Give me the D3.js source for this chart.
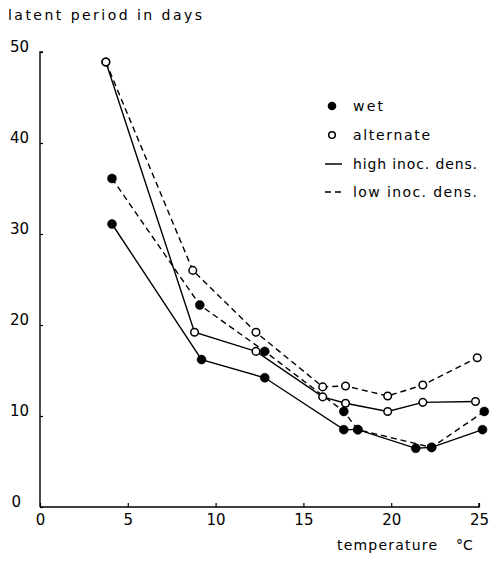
<!DOCTYPE html>
<html>
<head>
<meta charset="utf-8">
<script src="https://cdn.jsdelivr.net/npm/d3@7"></script>
<style>
  html, body { margin: 0; padding: 0; background: #fff; }
  svg { display: block; }
  text { font-family: "DejaVu Sans", sans-serif; fill: #000; }
</style>
</head>
<body>
<svg id="chart" width="491" height="568"></svg>
<script>
// ---- data ----
const xTicks = [0, 5, 10, 15, 20, 25];
const yTicks = [0, 10, 20, 30, 40, 50];

const tempWetHigh = [4.1, 9.2, 12.8, 17.3, 18.1, 21.4, 22.3, 25.2];
const daysWetHigh = [31.1, 16.2, 14.2, 8.5, 8.5, 6.45, 6.55, 8.5];

const tempWetLow = [4.1, 9.1, 12.8, 17.3, 18.1, 22.3, 25.3];
const daysWetLow = [36.1, 22.2, 17.1, 10.5, 8.5, 6.55, 10.5];

const tempAltHigh = [3.75, 8.8, 12.3, 16.1, 17.4, 19.8, 21.8, 24.8];
const daysAltHigh = [48.9, 19.2, 17.1, 12.1, 11.4, 10.5, 11.5, 11.6];

const tempAltLow = [3.75, 8.7, 12.3, 16.1, 17.4, 19.8, 21.8, 24.9];
const daysAltLow = [48.9, 26.0, 19.2, 13.2, 13.3, 12.2, 13.4, 16.4];

const legendLabels = ["wet", "alternate", "high inoc. dens.", "low inoc. dens."];

// ---- drawing ----
const svg = d3.select("#chart");
const x = d3.scaleLinear().domain([0, 25]).range([40, 479]);
const y = d3.scaleLinear().domain([0, 50]).range([507, 52]);

// axes
const xAxis = d3.axisBottom(x).tickValues(xTicks).tickSize(-4).tickPadding(10).tickFormat(d3.format("d"));
const yAxis = d3.axisLeft(y).tickValues(yTicks).tickSize(-3).tickPadding(10).tickFormat(d3.format("d"));

const gx = svg.append("g").attr("transform", `translate(0,${y(0)})`).call(xAxis);
const gy = svg.append("g").attr("transform", `translate(${x(0)},0)`).call(yAxis);
[gx, gy].forEach(g => {
  g.select(".domain").attr("stroke", "#000").attr("stroke-width", 1.4);
  g.selectAll(".tick line").attr("stroke", "#000").attr("stroke-width", 1.2);
  g.selectAll(".tick text").attr("font-size", 15).attr("font-family", "DejaVu Sans, sans-serif").attr("fill", "#000");
});
gx.select(".domain").attr("d", `M${x(0)},0H${x(25)}V-4`);
gy.select(".domain").attr("d", `M0,${y(0)}V${y(50)}H3`);
gx.selectAll(".tick text").attr("dy", "0.5em");
gy.selectAll(".tick text").attr("dy", "-0.05em").attr("x", -11);
gy.selectAll(".tick").filter(d => d === 0).select("text").attr("x", -19);

// titles
svg.append("text").attr("x", 8).attr("y", 20).attr("font-size", 14)
  .attr("textLength", 194).attr("lengthAdjust", "spacing")
  .text("latent period in days");
svg.append("text").attr("x", 337).attr("y", 550).attr("font-size", 14)
  .attr("textLength", 100).attr("lengthAdjust", "spacing")
  .text("temperature");
svg.append("text").attr("x", 456).attr("y", 550).attr("font-size", 14)
  .text("°C");

// series
const series = [
  { t: tempAltLow, d: daysAltLow, filled: false, dashed: true },
  { t: tempAltHigh, d: daysAltHigh, filled: false, dashed: false },
  { t: tempWetLow, d: daysWetLow, filled: true, dashed: true },
  { t: tempWetHigh, d: daysWetHigh, filled: true, dashed: false }
];

const line = d3.line().x(p => x(p[0])).y(p => y(p[1]));
series.forEach(s => {
  const pts = s.t.map((v, i) => [v, s.d[i]]);
  svg.append("path").datum(pts).attr("d", line)
    .attr("fill", "none").attr("stroke", "#000").attr("stroke-width", 1.4)
    .attr("stroke-dasharray", s.dashed ? "6,4" : null);
});
series.forEach(s => {
  const pts = s.t.map((v, i) => [v, s.d[i]]);
  svg.append("g").selectAll("circle").data(pts).join("circle")
    .attr("cx", p => x(p[0])).attr("cy", p => y(p[1]))
    .attr("r", s.filled ? 4.5 : 3.8)
    .attr("fill", s.filled ? "#000" : "#fff")
    .attr("stroke", "#000").attr("stroke-width", s.filled ? 0.5 : 1.5);
});

// legend
const legY = [106, 135, 164, 192];
const lg = svg.append("g");
lg.append("circle").attr("cx", 332).attr("cy", legY[0]).attr("r", 4.3).attr("fill", "#000");
lg.append("circle").attr("cx", 332).attr("cy", legY[1]).attr("r", 3.3).attr("fill", "#fff").attr("stroke", "#000").attr("stroke-width", 1.5);
lg.append("line").attr("x1", 325).attr("x2", 342).attr("y1", legY[2]).attr("y2", legY[2]).attr("stroke", "#000").attr("stroke-width", 1.5);
lg.append("line").attr("x1", 325).attr("x2", 343).attr("y1", legY[3]).attr("y2", legY[3]).attr("stroke", "#000").attr("stroke-width", 1.5).attr("stroke-dasharray", "6,4");
const legW = [30, 77, 124, 124];
legendLabels.forEach((t, i) => {
  lg.append("text").attr("x", 353).attr("y", legY[i] + 5).attr("font-size", 14)
    .attr("textLength", legW[i]).attr("lengthAdjust", "spacing").text(t);
});
</script>
</body>
</html>
